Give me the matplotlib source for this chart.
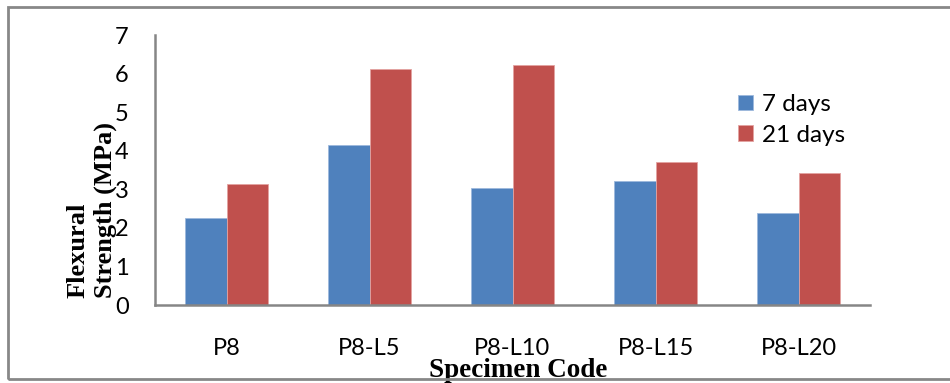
import matplotlib
matplotlib.use("Agg")
import matplotlib.pyplot as plt
from matplotlib.patches import Rectangle
import numpy as np

specimens = ["P8", "P8-L5", "P8-L10", "P8-L15", "P8-L20"]
days_7 = [2.25, 4.14, 3.03, 3.21, 2.39]
days_21 = [3.15, 6.11, 6.22, 3.71, 3.42]
series_labels = ["7 days", "21 days"]

W, H = 950, 383
fig = plt.figure(figsize=(W / 100, H / 100), dpi=100)
ax = fig.add_axes([155 / W, (H - 305) / H, 715 / W, 270 / H])

x = np.arange(len(specimens))
bw = 0.287
ax.bar(x - bw / 2, days_7, bw, color="#4F81BD", edgecolor="#9DB9DC", linewidth=0.6, label=series_labels[0])
ax.bar(x + bw / 2, days_21, bw, color="#C0504D", edgecolor="#E3A3A1", linewidth=0.6, label=series_labels[1])

ax.set_xlim(-0.5, len(specimens) - 0.5)
ax.set_ylim(0, 7)
ax.set_yticks(range(0, 8))
ax.set_xticks(x)
ax.set_xticklabels(specimens)

for side in ("top", "right"):
    ax.spines[side].set_visible(False)
for side in ("left", "bottom"):
    ax.spines[side].set_color("#868686")
    ax.spines[side].set_linewidth(1.8)

ax.tick_params(axis="y", length=0, pad=19, labelsize=17)
ax.tick_params(axis="x", length=0, pad=24, labelsize=17)
for lab in ax.get_xticklabels() + ax.get_yticklabels():
    lab.set_fontfamily("Lato")

leg = ax.legend(loc="upper left", bbox_to_anchor=(738 / W, (H - 94) / H),
                bbox_transform=fig.transFigure, frameon=False,
                prop={"family": "Lato", "size": 17.5},
                handlelength=0.6, handleheight=0.6, handletextpad=0.4,
                labelspacing=0.4, borderpad=0, borderaxespad=0)

fig.text(92 / W, (H - 298) / H, "Flexural\nStrength (MPa)", rotation=90,
         ha="center", va="bottom", multialignment="left",
         family="Liberation Serif", fontweight="bold", fontsize=19)
fig.text(518 / W, (H - 358) / H, "Specimen Code", ha="center", va="top",
         family="Liberation Serif", fontweight="bold", fontsize=19.5)

# outer frame around the chart, open on the right
frame = Rectangle((8 / W, 4 / H), 1.2, (H - 11) / H, transform=fig.transFigure,
                  fill=False, edgecolor="#888888", linewidth=2, zorder=10)
fig.patches.append(frame)

fig.savefig("out.png", dpi=100)
